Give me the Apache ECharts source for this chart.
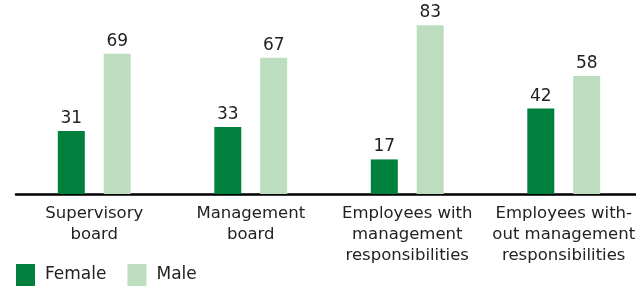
<!DOCTYPE html>
<html><head><meta charset="utf-8">
<script src="https://cdn.jsdelivr.net/npm/echarts@6/dist/echarts.min.js"></script>
<style>html,body{margin:0;padding:0;background:#fff}#c{width:636px;height:286px}</style>
</head><body><div id="c"></div>
<script>
const categories = ["Supervisory\nboard", "Management\nboard", "Employees with\nmanagement\nresponsibilities", "Employees with-\nout management\nresponsibilities"];
const female = [31, 33, 17, 42];
const male = [69, 67, 83, 58];
const seriesNames = ["Female", "Male"];

const chart = echarts.init(document.getElementById('c'), null, {renderer: 'canvas'});
const font = "'DejaVu Sans', sans-serif";
const lbl = {show: true, position: 'top', distance: 4, color: '#222', fontSize: 17, fontFamily: font};
chart.setOption({
  animation: false,
  grid: {left: 16, width: 626, top: 11, height: 183, containLabel: false, outerBoundsMode: 'none'},
  legend: {
    left: 16, top: 264, itemWidth: 19, itemHeight: 22, itemGap: 21,
    icon: 'rect', padding: 0,
    textStyle: {fontFamily: font, fontSize: 17, color: '#222', padding: [0, 0, 0, 5]},
    data: seriesNames
  },
  xAxis: {
    type: 'category', data: categories,
    axisLine: {lineStyle: {color: '#000', width: 2.5}},
    axisTick: {show: false},
    axisLabel: {color: '#222', fontFamily: font, fontSize: 16.5, lineHeight: 21, margin: 9, interval: 0}
  },
  yAxis: {type: 'value', min: 0, max: 90, show: false, splitLine: {show: false}},
  series: [
    {name: seriesNames[0], type: 'bar', data: female, barWidth: 27, barGap: '70%', itemStyle: {color: '#00803c'}, label: lbl},
    {name: seriesNames[1], type: 'bar', data: male, barWidth: 27, itemStyle: {color: '#bcdebe'}, label: lbl}
  ]
});
</script></body></html>
